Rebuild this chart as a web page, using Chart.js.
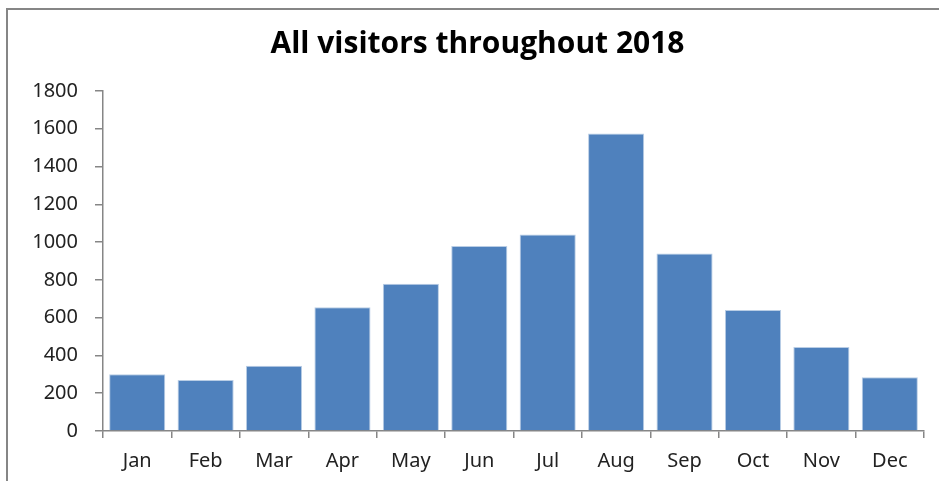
<!DOCTYPE html>
<html>
<head>
<meta charset="utf-8">
<script src="https://cdn.jsdelivr.net/npm/chart.js@4/dist/chart.umd.min.js"></script>
<style>
  html, body { margin: 0; padding: 0; background: #fff; }
  #frame { position: absolute; left: 6px; top: 8px; width: 933px; height: 473px;
           border-left: 2px solid #868686; border-top: 2px solid #868686; }
  #wrap { position: absolute; left: 0; top: 0; width: 939px; height: 481px; }
</style>
</head>
<body>
<div id="frame"></div>
<div id="wrap"><canvas id="c" width="939" height="481"></canvas></div>
<script>
const months = ["Jan","Feb","Mar","Apr","May","Jun","Jul","Aug","Sep","Oct","Nov","Dec"];
const visitors = [300, 270, 345, 655, 780, 980, 1040, 1575, 940, 640, 445, 285];
const titleText = "All visitors throughout 2018";

new Chart(document.getElementById('c'), {
  type: 'bar',
  data: {
    labels: months,
    datasets: [{
      label: 'Visitors',
      data: visitors,
      backgroundColor: '#4F81BD',
      borderColor: '#B9CDE5',
      borderWidth: 1,
      categoryPercentage: 1,
      barPercentage: 0.82
    }]
  },
  options: {
    responsive: false,
    animation: false,
    layout: { padding: { left: 31, right: 15, top: 0, bottom: 0 } },
    plugins: {
      legend: { display: false },
      tooltip: { enabled: false },
      title: {
        display: true,
        text: titleText,
        color: '#000',
        font: { family: 'Open Sans', size: 30, weight: 'bold' },
        padding: { top: 26, bottom: 29 }
      }
    },
    scales: {
      x: {
        grid: { display: true, drawOnChartArea: false, drawTicks: true, tickLength: 7, color: '#868686', lineWidth: 1.5 },
        border: { display: true, color: '#868686', width: 1.5 },
        ticks: { color: '#222', font: { family: 'Noto Sans', size: 20 }, padding: 11 },
        afterFit: s => { s.height = 50; }
      },
      y: {
        min: 0, max: 1800,
        grid: { display: true, drawOnChartArea: false, drawTicks: true, tickLength: 8, color: '#868686', lineWidth: 1.5 },
        border: { display: true, color: '#868686', width: 1.5 },
        ticks: { stepSize: 200, color: '#222', font: { family: 'Noto Sans', size: 20 }, padding: 17,
                 callback: v => String(v) },
        afterFit: s => { s.width = 72; }
      }
    }
  }
});
</script>
</body>
</html>
